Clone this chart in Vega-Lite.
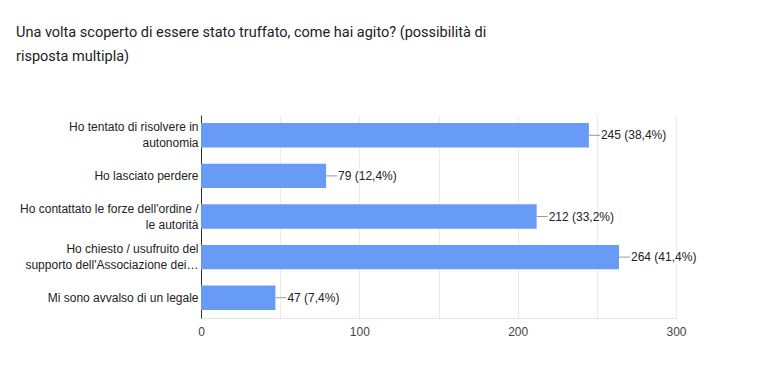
{
  "$schema": "https://vega.github.io/schema/vega-lite/v6.json",
  "width": 475,
  "height": 203,
  "autosize": {"type": "none"},
  "padding": {"left": 201, "top": 115, "right": 81, "bottom": 52},
  "background": "white",
  "title": {
    "text": ["Una volta scoperto di essere stato truffato, come hai agito? (possibilità di", "risposta multipla)"],
    "anchor": "start",
    "frame": "group",
    "orient": "top",
    "baseline": "top",
    "offset": 0,
    "dx": -185,
    "dy": -51,
    "font": "Roboto",
    "fontSize": 14.5,
    "fontWeight": "normal",
    "color": "#202124",
    "lineHeight": 24
  },
  "data": {
    "values": [
      {"risposta": "Ho tentato di risolvere in\nautonomia", "n": 245, "etichetta": "245 (38,4%)"},
      {"risposta": "Ho lasciato perdere", "n": 79, "etichetta": "79 (12,4%)"},
      {"risposta": "Ho contattato le forze dell'ordine /\nle autorità", "n": 212, "etichetta": "212 (33,2%)"},
      {"risposta": "Ho chiesto / usufruito del\nsupporto dell'Associazione dei…", "n": 264, "etichetta": "264 (41,4%)"},
      {"risposta": "Mi sono avvalso di un legale", "n": 47, "etichetta": "47 (7,4%)"}
    ]
  },
  "encoding": {
    "y": {
      "field": "risposta",
      "type": "nominal",
      "sort": null,
      "scale": {"paddingInner": 0.4, "paddingOuter": 0.2},
      "axis": {
        "title": null,
        "ticks": false,
        "domain": true,
        "domainColor": "#333333",
        "labelPadding": 3,
        "labelFont": "Arial",
        "labelFontSize": 12,
        "labelColor": "#222222",
        "labelLineHeight": 16,
        "labelLimit": 300,
        "labelOffset": {"condition": {"test": "indexof(datum.value, '\\n') >= 0", "value": -8}, "value": 0},
        "labelExpr": "split(datum.value, '\\n')"
      }
    }
  },
  "layer": [
    {
      "mark": {"type": "bar", "color": "#689bf5"},
      "encoding": {
        "x": {
          "field": "n",
          "type": "quantitative",
          "scale": {"domain": [0, 300], "nice": false},
          "axis": {
            "title": null,
            "values": [0, 50, 100, 150, 200, 250, 300],
            "labelExpr": "datum.value % 100 == 0 ? datum.label : ''",
            "labelFlush": false,
            "ticks": false,
            "domain": true,
            "domainColor": "#e6e6e6",
            "grid": true,
            "gridColor": "#ebebeb",
            "labelFont": "Arial",
            "labelFontSize": 12,
            "labelColor": "#444444",
            "labelPadding": 8
          }
        }
      }
    },
    {
      "mark": {"type": "rule", "color": "#999999", "x2Offset": 11, "strokeWidth": 1},
      "encoding": {
        "x": {"field": "n", "type": "quantitative"},
        "x2": {"field": "n"}
      }
    },
    {
      "mark": {"type": "text", "align": "left", "baseline": "middle", "dx": 12, "font": "Arial", "fontSize": 12, "color": "#222222"},
      "encoding": {
        "x": {"field": "n", "type": "quantitative"},
        "text": {"field": "etichetta"}
      }
    }
  ],
  "config": {"view": {"stroke": null}}
}
